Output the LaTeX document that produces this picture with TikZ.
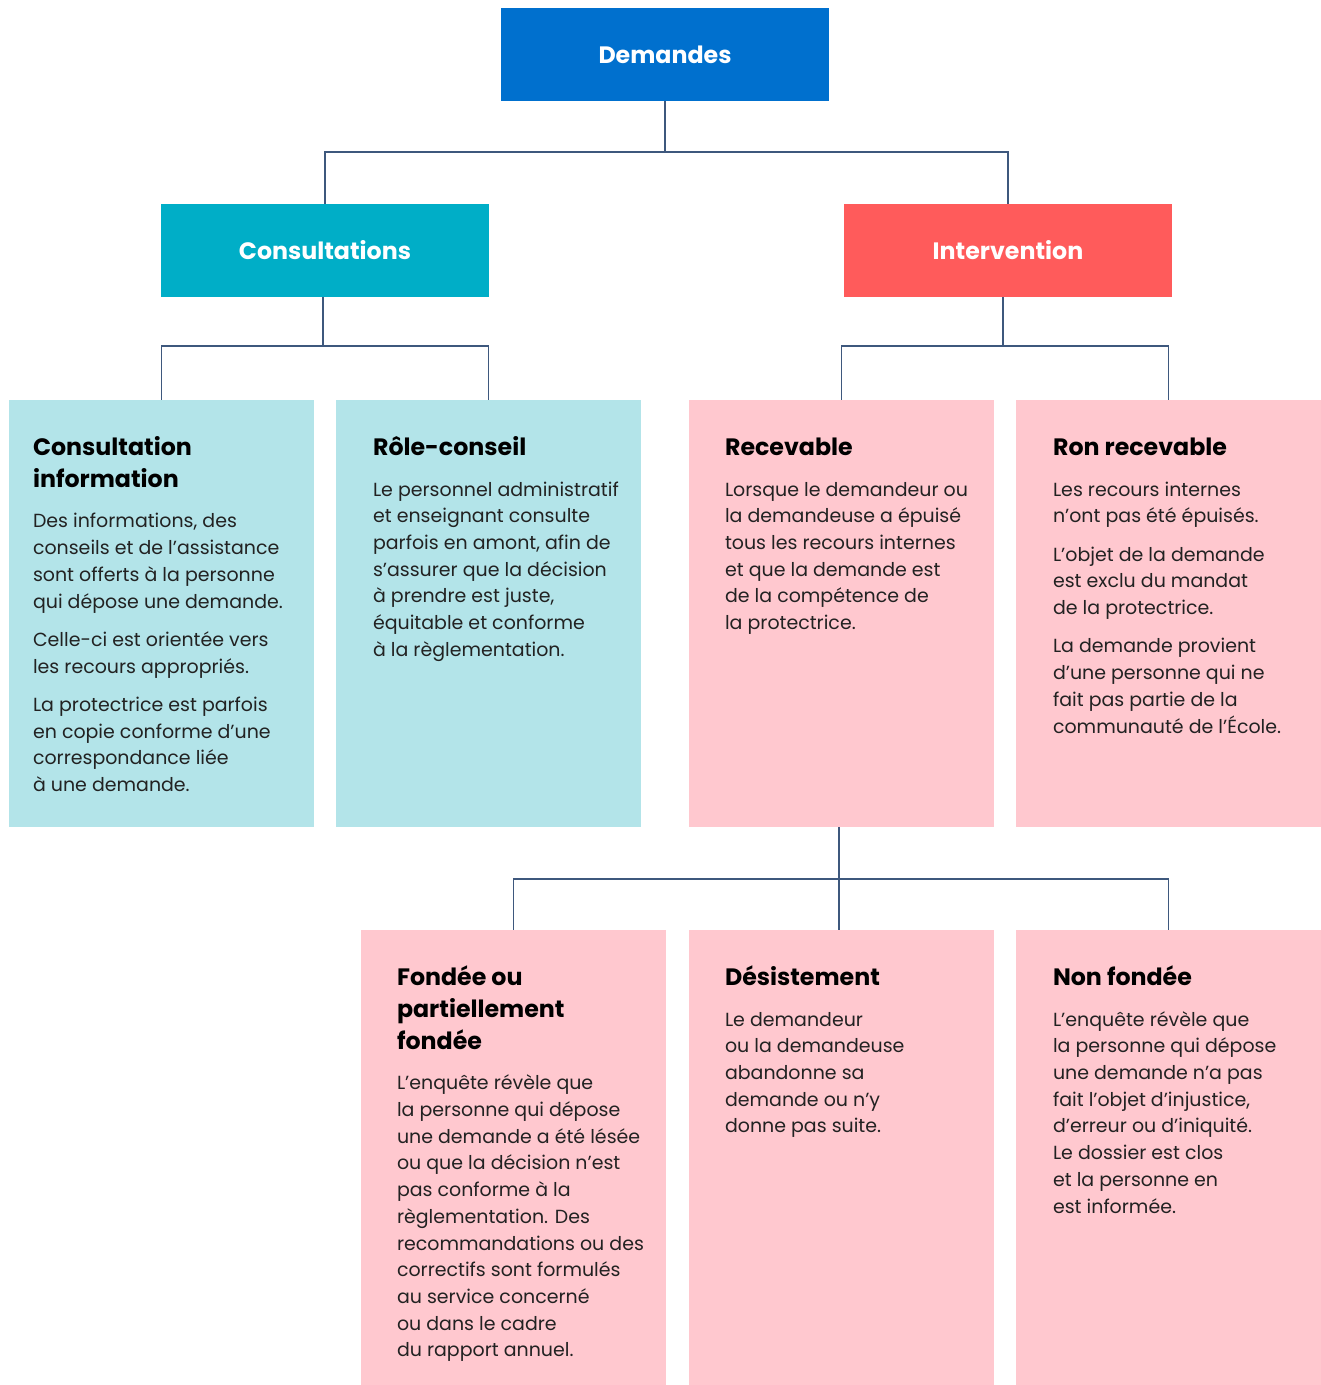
\documentclass[tikz,border=0pt]{standalone}
\usepackage{fontspec}
\setmainfont{Poppins}
\usepackage{tikz}
\usetikzlibrary{positioning}
\definecolor{demblue}{RGB}{0,112,206}
\definecolor{consteal}{RGB}{0,174,199}
\definecolor{intcoral}{RGB}{255,91,91}
\definecolor{cyanlight}{RGB}{179,228,233}
\definecolor{pinklight}{RGB}{255,200,207}
\definecolor{linkc}{RGB}{62,88,125}
\definecolor{bodyc}{RGB}{34,34,34}

\begin{document}
\begin{tikzpicture}[
x=0.02cm,y=-0.02cm,
link/.style={draw=linkc,line width=0.85pt},
head/.style={minimum width=6.56cm,minimum height=1.86cm,inner sep=0pt,text=white,font=\bfseries\fontsize{13.5}{17}\selectfont},
card/.style={minimum width=6.1cm,inner sep=0pt},
ttl/.style={anchor=north west,inner sep=0pt,align=left,font=\bfseries\fontsize{13.5}{18.1}\selectfont},
txt/.style={inner sep=0pt,align=left,text=bodyc,font=\fontsize{10.8}{15.2}\selectfont}]
    \useasboundingbox (0,0) rectangle (1320,1385);

    % Top levels
    \node[head,fill=demblue] (dem) at (665,54.5) {Demandes};
    \node[head,fill=consteal] (cons) at (325,250.5) {Consultations};
    \node[head,fill=intcoral] (int) at (1008,250.5) {Intervention};

    % Cards
    \node[card,minimum height=8.54cm,fill=cyanlight] (info) at (161.5,613.5) {};
    \node[card,minimum height=8.54cm,fill=cyanlight] (role) at (488.5,613.5) {};
    \node[card,minimum height=8.54cm,fill=pinklight] (rec) at (841.5,613.5) {};
    \node[card,minimum height=8.54cm,fill=pinklight] (nonrec) at (1168.5,613.5) {};
    \node[card,minimum height=9.1cm,fill=pinklight] (fond) at (513.5,1157.5) {};
    \node[card,minimum height=9.1cm,fill=pinklight] (des) at (841.5,1157.5) {};
    \node[card,minimum height=9.1cm,fill=pinklight] (nonf) at (1168.5,1157.5) {};

    % Connectors
    \coordinate (j1) at (665,152);
    \draw[link] (dem.south) -- (j1);
    \draw[link] (cons.north) |- (j1) -| (int.north);
    \coordinate (j2) at (323,346);
    \draw[link] (j2 |- cons.south) -- (j2);
    \draw[link] (info.north) |- (j2) -| (role.north);
    \coordinate (j3) at (1003,346);
    \draw[link] (j3 |- int.south) -- (j3);
    \draw[link] (rec.north) |- (j3) -| (nonrec.north);
    \coordinate (j4) at (839,879);
    \draw[link] (j4 |- rec.south) -- (j4 |- des.north);
    \draw[link] (fond.north) |- (j4) -| (nonf.north);

    % Texts
    \node[ttl] (infoT) at ([shift={(24,33.5)}]info.north west) {\strut Consultation\\information\strut};
    \node[txt,below right=6.5pt and 0pt of infoT.south west] (infoB) {\strut Des informations, des\\conseils et de l’assistance\\sont offerts à la personne\\qui dépose une demande.\\[6.6pt]Celle-ci est orientée vers\\les recours appropriés.\\[6.6pt]La protectrice est parfois\\en copie conforme d’une\\correspondance liée\\à une demande.\strut};

    \node[ttl] (roleT) at ([shift={(37,33.5)}]role.north west) {\strut Rôle-conseil\strut};
    \node[txt,below right=6.5pt and 0pt of roleT.south west] (roleB) {\strut Le personnel administratif\\et enseignant consulte\\parfois en amont, afin de\\s’assurer que la décision\\à prendre est juste,\\équitable et conforme\\à la règlementation.\strut};

    \node[ttl] (recT) at ([shift={(36,33.5)}]rec.north west) {\strut Recevable\strut};
    \node[txt,below right=6.5pt and 0pt of recT.south west] (recB) {\strut Lorsque le demandeur ou\\la demandeuse a épuisé\\tous les recours internes\\et que la demande est\\de la compétence de\\la protectrice.\strut};

    \node[ttl] (nonrecT) at ([shift={(37,33.5)}]nonrec.north west) {\strut Ron recevable\strut};
    \node[txt,below right=6.5pt and 0pt of nonrecT.south west] (nonrecB) {\strut Les recours internes\\n’ont pas été épuisés.\\[6.6pt]L’objet de la demande\\est exclu du mandat\\de la protectrice.\\[6.6pt]La demande provient\\d’une personne qui ne\\fait pas partie de la\\communauté de l’École.\strut};

    \node[ttl] (fondT) at ([shift={(36,33.5)}]fond.north west) {\strut Fondée ou\\partiellement\\fondée\strut};
    \node[txt,below right=6.5pt and 0pt of fondT.south west] (fondB) {\strut L’enquête révèle que\\la personne qui dépose\\une demande a été lésée\\ou que la décision n’est\\pas conforme à la\\règlementation. Des\\recommandations ou des\\correctifs sont formulés\\au service concerné\\ou dans le cadre\\du rapport annuel.\strut};

    \node[ttl] (desT) at ([shift={(36,33.5)}]des.north west) {\strut Désistement\strut};
    \node[txt,below right=6.5pt and 0pt of desT.south west] (desB) {\strut Le demandeur\\ou la demandeuse\\abandonne sa\\demande ou n’y\\donne pas suite.\strut};

    \node[ttl] (nonfT) at ([shift={(37,33.5)}]nonf.north west) {\strut Non fondée\strut};
    \node[txt,below right=6.5pt and 0pt of nonfT.south west] (nonfB) {\strut L’enquête révèle que\\la personne qui dépose\\une demande n’a pas\\fait l’objet d’injustice,\\d’erreur ou d’iniquité.\\Le dossier est clos\\et la personne en\\est informée.\strut};

\end{tikzpicture}
\end{document}
